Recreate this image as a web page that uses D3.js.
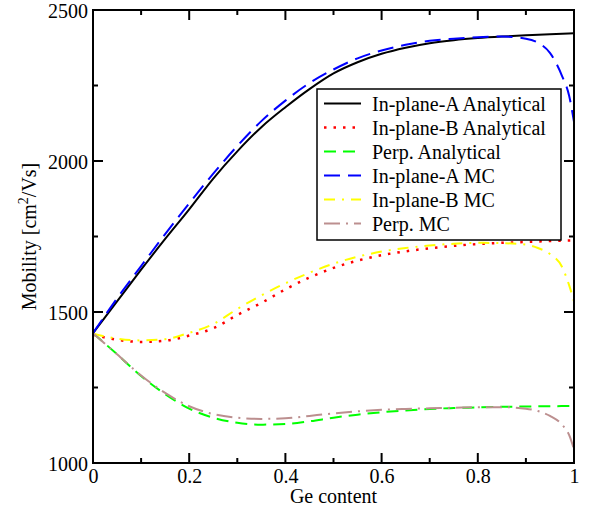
<!DOCTYPE html>
<html><head><meta charset="utf-8">
<script src="https://cdn.jsdelivr.net/npm/d3@7"></script>
<style>body{margin:0;background:#fff}svg{display:block}</style>
</head><body>
<svg id="c" width="589" height="512"></svg>
<script>
// ---- data ----
const xTicks = [0, 0.2, 0.4, 0.6, 0.8, 1];
const xTickLabels = ["0", "0.2", "0.4", "0.6", "0.8", "1"];
const yTicks = [1000, 1500, 2000, 2500];
const yTickLabels = ["1000", "1500", "2000", "2500"];

const seriesNames = ["In-plane-A Analytical", "In-plane-B Analytical", "Perp. Analytical", "In-plane-A MC", "In-plane-B MC", "Perp. MC"];

const geAnalytical = [0,0.05,0.1,0.15,0.2,0.25,0.3,0.35,0.4,0.45,0.5,0.55,0.6,0.65,0.7,0.75,0.8,0.85,0.9,0.95,1];
const inPlaneA_An = [1430,1535,1640,1742,1840,1942,2032,2112,2178,2238,2290,2327,2355,2375,2390,2400,2407,2412,2416,2420,2423];
const inPlaneB_An = [1425,1408,1401,1405,1422,1446,1490,1530,1575,1614,1646,1670,1688,1701,1711,1719,1725,1729,1732,1735,1737];
const perp_An     = [1430,1360,1288,1228,1180,1150,1133,1127,1129,1138,1150,1160,1168,1174,1179,1182,1184,1186,1187,1188,1189];

const geMC = [0,0.05,0.1,0.15,0.2,0.25,0.3,0.35,0.4,0.45,0.5,0.55,0.6,0.65,0.7,0.75,0.8,0.85,0.9,0.925,0.95,0.975,0.99,1];
const inPlaneA_MC = [1430,1545,1652,1758,1860,1958,2050,2132,2200,2258,2303,2340,2366,2385,2398,2405,2410,2412,2405,2392,2358,2282,2215,2130];
const inPlaneB_MC = [1428,1412,1406,1410,1431,1460,1510,1555,1595,1630,1660,1683,1700,1712,1720,1726,1729,1728,1723,1712,1692,1650,1588,1535];
const perp_MC     = [1430,1360,1290,1232,1188,1162,1150,1146,1148,1156,1164,1171,1176,1179,1181,1183,1185,1185,1180,1172,1156,1127,1092,1045];

const colors = ["#000000", "#ff0000", "#00ff00", "#0000ff", "#ffff00", "#bc8f8f"];
const dashes = [null, "2.5,7", "12,7", "16,8", "11,7,2,7", "16,6,2,6"];
const widths = [2, 2.5, 2, 2, 2, 2];

// ---- chart ----
const svg = d3.select("#c");
const L = 93, R = 574, T = 10, B = 463;
const FONT = 'Tinos, "Nimbus Roman", "Nimbus Roman No9 L", FreeSerif, "Noto Serif", Times, "Liberation Serif", serif';
const x = d3.scaleLinear().domain([0, 1]).range([L, R]);
const y = d3.scaleLinear().domain([1000, 2500]).range([B, T]);

const series = [
  [geAnalytical, inPlaneA_An],
  [geAnalytical, inPlaneB_An],
  [geAnalytical, perp_An],
  [geMC, inPlaneA_MC],
  [geMC, inPlaneB_MC],
  [geMC, perp_MC]
];

svg.append("clipPath").attr("id", "clip").append("rect")
  .attr("x", L).attr("y", T).attr("width", R - L).attr("height", B - T);

const line = d3.line().x(d => x(d[0])).y(d => y(d[1])).curve(d3.curveMonotoneX);
const g = svg.append("g").attr("clip-path", "url(#clip)");
series.forEach((s, i) => {
  const pts = s[0].map((v, j) => [v, s[1][j]]);
  g.append("path").datum(pts).attr("d", line)
    .attr("fill", "none").attr("stroke", colors[i])
    .attr("stroke-width", widths[i])
    .attr("stroke-dasharray", dashes[i]);
});

// inward ticks on all sides
const xMinor = [0.1, 0.3, 0.5, 0.7, 0.9];
const yMinor = [1250, 1750, 2250];
function ticksX(yPos, dir) {
  xTicks.forEach(v => svg.append("line").attr("x1", x(v)).attr("x2", x(v)).attr("y1", yPos).attr("y2", yPos + dir * 10).attr("stroke", "#000").attr("stroke-width", 2));
  xMinor.forEach(v => svg.append("line").attr("x1", x(v)).attr("x2", x(v)).attr("y1", yPos).attr("y2", yPos + dir * 5).attr("stroke", "#000").attr("stroke-width", 2));
}
function ticksY(xPos, dir) {
  yTicks.forEach(v => svg.append("line").attr("y1", y(v)).attr("y2", y(v)).attr("x1", xPos).attr("x2", xPos + dir * 10).attr("stroke", "#000").attr("stroke-width", 2));
  yMinor.forEach(v => svg.append("line").attr("y1", y(v)).attr("y2", y(v)).attr("x1", xPos).attr("x2", xPos + dir * 5).attr("stroke", "#000").attr("stroke-width", 2));
}
ticksX(B, -1); ticksX(T, 1); ticksY(L, 1); ticksY(R, -1);

// tick labels via d3 axes
const xAxis = svg.append("g").attr("transform", `translate(0,${B})`)
  .call(d3.axisBottom(x).tickValues(xTicks).tickSize(0).tickPadding(0).tickFormat((d, i) => xTickLabels[i]));
xAxis.attr("font-family", FONT).attr("font-size", 20);
xAxis.select(".domain").remove();
xAxis.selectAll("text").attr("fill", "#000").attr("dy", null).attr("y", 20);

const yAxis = svg.append("g").attr("transform", `translate(${L},0)`)
  .call(d3.axisLeft(y).tickValues(yTicks).tickSize(0).tickPadding(5).tickFormat((d, i) => yTickLabels[i]));
yAxis.attr("font-family", FONT).attr("font-size", 20);
yAxis.select(".domain").remove();
yAxis.selectAll("text").attr("fill", "#000").attr("dy", "0.35em");

// frame
svg.append("rect").attr("x", L).attr("y", T).attr("width", R - L).attr("height", B - T)
  .attr("fill", "none").attr("stroke", "#000").attr("stroke-width", 2);

// axis titles
svg.append("text").attr("x", (L + R) / 2).attr("y", 503).attr("text-anchor", "middle")
  .attr("font-family", FONT).attr("font-size", 20).text("Ge content");
const yl = svg.append("text").attr("transform", `translate(36,${(T + B) / 2}) rotate(-90)`)
  .attr("text-anchor", "middle").attr("font-family", FONT).attr("font-size", 20);
yl.append("tspan").text("Mobility [cm");
yl.append("tspan").attr("font-size", 14).attr("dy", -8).text("2");
yl.append("tspan").attr("dy", 8).text("/Vs]");

// legend
const lg = svg.append("g");
lg.append("rect").attr("x", 317).attr("y", 89).attr("width", 244).attr("height", 151)
  .attr("fill", "#fff").attr("stroke", "#000").attr("stroke-width", 1.5);
seriesNames.forEach((n, i) => {
  const cy = 103.5 + i * 24;
  lg.append("line").attr("x1", 324).attr("x2", 361).attr("y1", cy).attr("y2", cy)
    .attr("stroke", colors[i]).attr("stroke-width", widths[i]).attr("stroke-dasharray", dashes[i]);
  lg.append("text").attr("x", 372).attr("y", cy + 7).attr("font-family", FONT).attr("font-size", 20).text(n);
});
</script>
</body></html>
